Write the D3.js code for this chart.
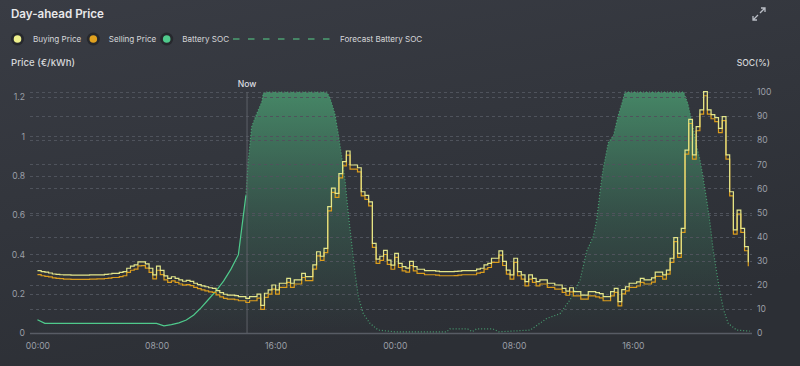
<!DOCTYPE html>
<html>
<head>
<meta charset="utf-8">
<script src="https://cdn.jsdelivr.net/npm/d3@7"></script>
<style>
  html, body { margin: 0; padding: 0; background: #33363d; }
  svg { display: block; font-family: Inter, "Noto Sans", sans-serif; }
</style>
</head>
<body>
<svg id="chart" width="800" height="366"></svg>
<script>
// day-ahead prices, 15 min steps, two days starting 00:00
const buyingPrice = [
  0.317, 0.312, 0.309, 0.305, 0.300, 0.298, 0.296, 0.295,
  0.295, 0.294, 0.294, 0.294, 0.294, 0.294, 0.295, 0.295,
  0.295, 0.295, 0.298, 0.300, 0.303, 0.303, 0.308, 0.312,
  0.329, 0.340, 0.346, 0.362, 0.362, 0.351, 0.329, 0.295,
  0.340, 0.318, 0.290, 0.278, 0.286, 0.278, 0.270, 0.263,
  0.267, 0.262, 0.253, 0.246, 0.240, 0.235, 0.230, 0.227,
  0.215, 0.205, 0.197, 0.193, 0.193, 0.190, 0.185, 0.185,
  0.176, 0.185, 0.185, 0.198, 0.140, 0.202, 0.219, 0.244,
  0.219, 0.253, 0.253, 0.278, 0.253, 0.270, 0.270, 0.303,
  0.287, 0.287, 0.346, 0.413, 0.390, 0.430, 0.642, 0.736,
  0.710, 0.810, 0.871, 0.925, 0.854, 0.854, 0.840, 0.718,
  0.700, 0.667, 0.456, 0.375, 0.390, 0.420, 0.370, 0.345,
  0.405, 0.354, 0.337, 0.330, 0.364, 0.337, 0.324, 0.324,
  0.317, 0.317, 0.317, 0.315, 0.312, 0.312, 0.312, 0.312,
  0.313, 0.315, 0.317, 0.317, 0.317, 0.317, 0.325, 0.329,
  0.346, 0.354, 0.380, 0.380, 0.417, 0.364, 0.320, 0.295,
  0.380, 0.312, 0.295, 0.261, 0.295, 0.278, 0.261, 0.270,
  0.270, 0.253, 0.253, 0.244, 0.244, 0.227, 0.213, 0.230,
  0.210, 0.210, 0.193, 0.193, 0.210, 0.210, 0.205, 0.200,
  0.185, 0.185, 0.210, 0.227, 0.159, 0.220, 0.235, 0.253,
  0.253, 0.260, 0.278, 0.270, 0.270, 0.280, 0.309, 0.309,
  0.295, 0.320, 0.380, 0.485, 0.405, 0.532, 0.930, 1.086,
  0.905, 1.049, 1.134, 1.227, 1.134, 1.110, 1.095, 1.040,
  1.100, 0.905, 0.718, 0.524, 0.625, 0.532, 0.439, 0.360
];
const sellingPrice = [
  0.297, 0.291, 0.288, 0.285, 0.280, 0.278, 0.276, 0.274,
  0.274, 0.273, 0.273, 0.273, 0.273, 0.273, 0.274, 0.274,
  0.275, 0.275, 0.277, 0.279, 0.282, 0.282, 0.287, 0.291,
  0.308, 0.319, 0.325, 0.341, 0.342, 0.330, 0.308, 0.275,
  0.319, 0.297, 0.270, 0.257, 0.265, 0.257, 0.249, 0.243,
  0.246, 0.241, 0.232, 0.226, 0.219, 0.214, 0.209, 0.206,
  0.194, 0.184, 0.176, 0.172, 0.172, 0.169, 0.164, 0.164,
  0.155, 0.164, 0.164, 0.177, 0.120, 0.181, 0.198, 0.223,
  0.198, 0.232, 0.232, 0.257, 0.232, 0.249, 0.249, 0.282,
  0.266, 0.266, 0.325, 0.392, 0.369, 0.409, 0.621, 0.715,
  0.689, 0.789, 0.850, 0.904, 0.833, 0.833, 0.819, 0.697,
  0.679, 0.646, 0.435, 0.354, 0.369, 0.399, 0.349, 0.324,
  0.384, 0.333, 0.316, 0.309, 0.343, 0.316, 0.303, 0.303,
  0.296, 0.296, 0.296, 0.294, 0.291, 0.291, 0.291, 0.291,
  0.292, 0.294, 0.296, 0.296, 0.296, 0.296, 0.304, 0.308,
  0.325, 0.333, 0.359, 0.359, 0.396, 0.343, 0.299, 0.274,
  0.359, 0.291, 0.274, 0.240, 0.274, 0.257, 0.240, 0.249,
  0.249, 0.232, 0.232, 0.223, 0.223, 0.206, 0.192, 0.209,
  0.189, 0.189, 0.172, 0.172, 0.189, 0.189, 0.184, 0.179,
  0.164, 0.164, 0.189, 0.206, 0.138, 0.199, 0.214, 0.232,
  0.232, 0.239, 0.257, 0.249, 0.249, 0.259, 0.288, 0.288,
  0.274, 0.299, 0.359, 0.464, 0.384, 0.511, 0.909, 1.065,
  0.884, 1.028, 1.113, 1.206, 1.113, 1.089, 1.074, 1.019,
  1.079, 0.884, 0.697, 0.503, 0.604, 0.511, 0.418, 0.339
];

// battery state of charge (%), hours since first midnight
const socHours = [0, 0.5, 1, 2, 3, 4, 5, 6, 7, 8, 8.5, 9, 9.5, 10, 10.5, 11, 11.5, 12, 12.5, 13, 13.5, 14];
const socValues = [5.5, 4, 4, 4, 4, 4, 4, 4, 4, 4, 3, 3.5, 4.2, 5.4, 7.5, 10.5, 14, 17.5, 21.5, 26.5, 32.5, 57];

const forecastHours = [
  14, 14.17, 14.39, 14.73, 15.07, 15.17, 15.36, 19.43, 19.65, 19.98, 20.2, 20.44,
  20.66, 20.88, 21.11, 21.33, 21.56, 21.89, 22.34, 22.9, 24, 27.5, 27.7, 28.9,
  29.2, 29.5, 30.6, 31, 33.1, 34.2, 35.1, 35.8, 36.45, 36.9, 37.34, 37.57,
  37.8, 38, 38.35, 38.7, 39, 39.25, 39.47, 43.4, 43.7, 43.95, 44.3, 44.5,
  44.7, 44.96, 45.18, 45.4, 45.63, 45.86, 46.1, 46.4, 46.97, 47.85
];
const forecastSoc = [
  57, 72, 85.6, 91, 96, 99.5, 100, 100, 97.5, 91, 83, 73,
  63.5, 49.6, 37, 25, 15, 8, 4, 1.2, 0.5, 0.5, 1.7, 1.7,
  0.6, 1.7, 1.7, 0.5, 1.2, 6, 8, 14, 22, 34, 40, 47,
  59, 68, 79, 82, 90, 95, 100, 100, 95, 88, 77, 72,
  65, 55, 45.5, 34, 25, 16.5, 9.5, 4, 1.2, 0.8
];

const nowHour = 14.08;
const timeTickHours = [0, 8, 16, 24, 32, 40];
const priceTicks = [0, 0.2, 0.4, 0.6, 0.8, 1, 1.2];
const socTicks = [0, 10, 20, 30, 40, 50, 60, 70, 80, 90, 100];

const legendItems = [
  { label: "Buying Price", color: "#eef08c" },
  { label: "Selling Price", color: "#e0a11f" },
  { label: "Battery SOC", color: "#4fca8c" }
];

const svg = d3.select("#chart");
const W = 800, H = 366;
const plot = { left: 30, right: 752, top: 92, bottom: 333 };

const base = new Date(2024, 0, 1, 0, 0);
const at = h => new Date(base.getTime() + h * 3600e3);

// background
const defs = svg.append("defs");
const bg = defs.append("linearGradient").attr("id", "bg")
  .attr("x1", 0).attr("y1", 0).attr("x2", 0.4).attr("y2", 1);
bg.append("stop").attr("offset", 0).attr("stop-color", "#393c44");
bg.append("stop").attr("offset", 1).attr("stop-color", "#2c2f35");
svg.append("rect").attr("width", W).attr("height", H).attr("fill", "url(#bg)");

const fillGrad = defs.append("linearGradient").attr("id", "socFill")
  .attr("gradientUnits", "userSpaceOnUse")
  .attr("x1", 0).attr("y1", plot.top).attr("x2", 0).attr("y2", plot.bottom);
fillGrad.append("stop").attr("offset", 0).attr("stop-color", "#4a9a70").attr("stop-opacity", 0.8);
fillGrad.append("stop").attr("offset", 0.55).attr("stop-color", "#3f8463").attr("stop-opacity", 0.32);
fillGrad.append("stop").attr("offset", 1).attr("stop-color", "#3a7a5a").attr("stop-opacity", 0);

const x = d3.scaleTime().domain([at(-0.5), at(48)]).range([plot.left, plot.right]);
const yPrice = d3.scaleLinear().domain([0, 1.225]).range([plot.bottom, plot.top]);
const ySoc = d3.scaleLinear().domain([0, 100]).range([plot.bottom, plot.top]);

// title
svg.append("text").attr("x", 11).attr("y", 18)
  .attr("fill", "#e8e8ea").attr("font-size", 11.6).attr("font-weight", 600)
  .text("Day-ahead Price");

// expand icon
const icon = svg.append("g").attr("fill", "none").attr("stroke", "#b9bdc5").attr("stroke-width", 1.3);
icon.append("path").attr("d", "M760,13 L765,8 M761,8 L765,8 L765,12");
icon.append("path").attr("d", "M758,15 L753,20 M753,16 L753,20 L757,20");

// legend
const legend = svg.append("g").attr("font-size", 8.1).attr("fill", "#d6d7da");
const legendX = [17.5, 93.3, 166.7];
legendItems.forEach((d, i) => {
  legend.append("circle").attr("cx", legendX[i]).attr("cy", 39).attr("r", 6.5).attr("fill", "#26282d");
  legend.append("circle").attr("cx", legendX[i]).attr("cy", 39).attr("r", 3.8).attr("fill", d.color);
  legend.append("text").attr("x", legendX[i] + 15.5).attr("y", 42).text(d.label);
});
legend.append("line").attr("x1", 233).attr("x2", 331).attr("y1", 39).attr("y2", 39)
  .attr("stroke", "#4c9e72").attr("stroke-width", 1.5).attr("stroke-dasharray", "6.5,8.5");
legend.append("text").attr("x", 340).attr("y", 42).text("Forecast Battery SOC");

// axis titles
svg.append("text").attr("x", 11).attr("y", 66).attr("font-size", 9.6).attr("font-weight", 500)
  .attr("fill", "#d6d7da").text("Price (€/kWh)");
svg.append("text").attr("x", 770).attr("y", 66).attr("font-size", 8.6).attr("font-weight", 500)
  .attr("text-anchor", "end").attr("fill", "#d6d7da").text("SOC(%)");

// SOC areas
const actualPts = socHours.map((h, i) => ({ t: at(h), v: socValues[i] }));
const forecastPts = forecastHours.map((h, i) => ({ t: at(h), v: forecastSoc[i] }));
const socArea = d3.area().x(d => x(d.t)).y0(ySoc(0)).y1(d => ySoc(d.v));
svg.append("path").datum(actualPts).attr("d", socArea).attr("fill", "url(#socFill)");
svg.append("path").datum(forecastPts).attr("d", socArea).attr("fill", "url(#socFill)");

// grid lines
const grid = svg.append("g").attr("stroke", "#4f535c").attr("stroke-width", 1)
  .attr("stroke-dasharray", "3,3");
priceTicks.filter(v => v > 0).forEach(v => {
  grid.append("line").attr("x1", plot.left).attr("x2", plot.right)
    .attr("y1", Math.round(yPrice(v)) + 0.5).attr("y2", Math.round(yPrice(v)) + 0.5);
});
socTicks.filter(v => v > 0).forEach(v => {
  grid.append("line").attr("x1", plot.left).attr("x2", plot.right)
    .attr("y1", Math.round(ySoc(v)) + 0.5).attr("y2", Math.round(ySoc(v)) + 0.5);
});

// axes
const leftAxis = svg.append("g").attr("transform", `translate(${plot.left - 5},0)`)
  .call(d3.axisLeft(yPrice).tickValues(priceTicks).tickSize(0).tickPadding(0).tickFormat(d3.format("~g")));
const rightAxis = svg.append("g").attr("transform", `translate(${plot.right + 5},0)`)
  .call(d3.axisRight(ySoc).tickValues(socTicks).tickSize(0).tickPadding(0));
const bottomAxis = svg.append("g").attr("transform", `translate(0,${plot.bottom + 10})`)
  .call(d3.axisBottom(x).tickValues(timeTickHours.map(at)).tickSize(0).tickPadding(0)
    .tickFormat(d3.timeFormat("%H:%M")));
[leftAxis, rightAxis, bottomAxis].forEach(a => {
  a.select(".domain").remove();
  a.selectAll("text").attr("fill", "#9b9fa7").attr("font-size", 8.6)
    .attr("font-family", "Inter, 'Noto Sans', sans-serif");
});

svg.append("line").attr("x1", plot.left).attr("x2", plot.right)
  .attr("y1", plot.bottom + 0.5).attr("y2", plot.bottom + 0.5)
  .attr("stroke", "#585c65").attr("stroke-width", 1.5);

// now marker
svg.append("line").attr("x1", x(at(nowHour))).attr("x2", x(at(nowHour)))
  .attr("y1", plot.top).attr("y2", plot.bottom)
  .attr("stroke", "#5c6068").attr("stroke-width", 1);
svg.append("text").attr("x", x(at(nowHour))).attr("y", 87).attr("text-anchor", "middle")
  .attr("font-size", 8.6).attr("font-weight", 500).attr("fill", "#dcdde0").text("Now");

// SOC lines
const socLine = d3.line().x(d => x(d.t)).y(d => ySoc(d.v));
svg.append("path").datum(forecastPts).attr("d", socLine).attr("fill", "none")
  .attr("stroke", "#4aa775").attr("stroke-width", 1.2).attr("stroke-dasharray", "1,2")
  .attr("stroke-opacity", 0.9);
svg.append("path").datum(actualPts).attr("d", socLine).attr("fill", "none")
  .attr("stroke", "#4fca8c").attr("stroke-width", 1.2);

// price step lines
const priceLine = d3.line().curve(d3.curveStepAfter).x(d => x(d.t)).y(d => yPrice(d.v));
const buyPts = buyingPrice.map((v, i) => ({ t: at(i / 4), v }));
const sellPts = sellingPrice.map((v, i) => ({ t: at(i / 4), v }));
svg.append("path").datum(sellPts).attr("d", priceLine).attr("fill", "none")
  .attr("stroke", "#dc9d1c").attr("stroke-width", 1.2);
svg.append("path").datum(buyPts).attr("d", priceLine).attr("fill", "none")
  .attr("stroke", "#e3e68a").attr("stroke-width", 1.2);
</script>
</body>
</html>
